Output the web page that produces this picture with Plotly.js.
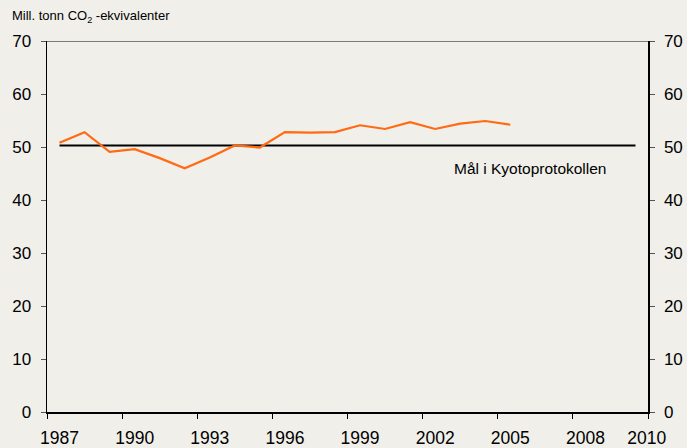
<!DOCTYPE html>
<html>
<head>
<meta charset="utf-8">
<script src="https://cdn.plot.ly/plotly-3.0.1.min.js"></script>
<style>html,body{margin:0;padding:0;background:#f0efe9;}#chart{width:687px;height:448px;}</style>
</head>
<body>
<div id="chart"></div>
<script>
const years = [1987,1988,1989,1990,1991,1992,1993,1994,1995,1996,1997,1998,1999,2000,2001,2002,2003,2004,2005];
const emissions = [50.8,52.8,49.1,49.6,47.9,46.0,48.0,50.3,49.9,52.8,52.7,52.8,54.1,53.4,54.7,53.4,54.4,54.9,54.2];
const targetYears = [1987,2010];
const targetValues = [50.3,50.3];
const tickLabelYears = [1987,1990,1993,1996,1999,2002,2005,2008,2010];
const tickLabels = ["1987","1990","1993","1996","1999","2002","2005","2008","2010"];
const yTicks = [0,10,20,30,40,50,60,70];
const targetLabel = "Mål i Kyotoprotokollen";
const unitTitle = "Mill. tonn CO<sub>2</sub> -ekvivalenter";

// category boundaries for tick marks (every 3 years)
const boundaries = [];
for (let i = 0; i <= 8; i++) boundaries.push(1986.5 + 3*i);
const labelPos = tickLabelYears.map(y => y === 2010 ? 2010.45 : y);

const font = "Liberation Sans, Arial, sans-serif";
const bg = "#f0efe9";

const traces = [
  {x: targetYears, y: targetValues, type: "scatter", mode: "lines",
   line: {color: "#000000", width: 2}, hoverinfo: "skip", xaxis: "x", yaxis: "y"},
  {x: years, y: emissions, type: "scatter", mode: "lines",
   line: {color: "#ff6a13", width: 2.2}, xaxis: "x", yaxis: "y"},
  {x: [1987], y: [0], type: "scatter", mode: "none", xaxis: "x2", yaxis: "y2", hoverinfo: "skip"}
];

const layout = {
  width: 687, height: 448,
  paper_bgcolor: bg, plot_bgcolor: bg,
  margin: {l: 47, r: 39, t: 41, b: 36},
  showlegend: false,
  font: {family: font, color: "#000"},
  xaxis: {range: [1986.5, 2010.5], tickmode: "array", tickvals: boundaries,
    showticklabels: false, ticks: "outside", ticklen: 5, tickcolor: "#000", tickwidth: 1,
    showline: true, linecolor: "#000", linewidth: 1.5, showgrid: false, zeroline: false, fixedrange: true},
  xaxis2: {range: [1986.5, 2010.5], overlaying: "x", anchor: "y", side: "bottom",
    tickmode: "array", tickvals: labelPos, ticktext: tickLabels, ticks: "", ticklabelstandoff: 13,
    tickfont: {size: 17.5, family: font, color: "#000"},
    showline: false, showgrid: false, zeroline: false},
  yaxis: {range: [0, 70], tickmode: "array", tickvals: yTicks, ticks: "outside", ticklen: 5,
    tickcolor: "#555", tickfont: {size: 17, family: font, color: "#000"}, ticklabelstandoff: 6,
    showline: true, linecolor: "#000", linewidth: 1.5, showgrid: false, zeroline: false},
  yaxis2: {range: [0, 70], overlaying: "y", side: "right", anchor: "x", tickmode: "array", tickvals: yTicks,
    ticks: "outside", ticklen: 5, tickcolor: "#555", tickfont: {size: 17, family: font, color: "#000"},
    ticklabelstandoff: 6,
    showline: true, linecolor: "#000", linewidth: 1.5, showgrid: false, zeroline: false},
  shapes: [
    {type: "line", xref: "paper", yref: "y", x0: 0, x1: 1, y0: 70, y1: 70,
     line: {color: "#555", width: 1.5}}
  ],
  annotations: [
    {text: unitTitle, xref: "paper", yref: "paper", x: -47/601, y: 1 + 25/371,
     xanchor: "left", yanchor: "middle", showarrow: false, xshift: 10,
     font: {size: 13, family: font, color: "#000"}},
    {text: targetLabel, xref: "x", yref: "y", x: 2005.8, y: 50.3, yshift: -23,
     xanchor: "center", yanchor: "middle", showarrow: false,
     font: {size: 15.5, family: font, color: "#000"}}
  ]
};

Plotly.newPlot("chart", traces, layout, {displayModeBar: false, staticPlot: true});
</script>
</body>
</html>
